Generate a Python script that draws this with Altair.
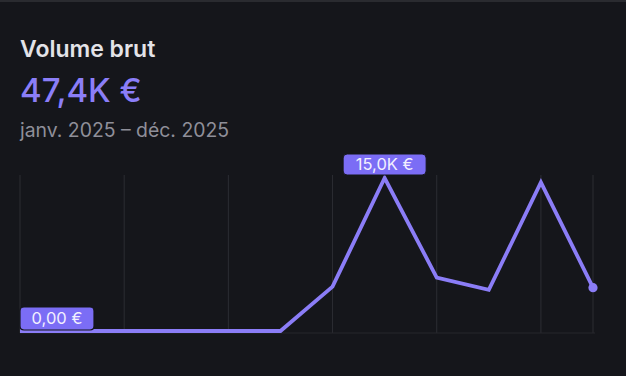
import altair as alt
import pandas as pd

# ---- data ----
months = ["janv.", "févr.", "mars", "avr.", "mai", "juin",
          "juil.", "août", "sept.", "oct.", "nov.", "déc."]
month_idx = list(range(1, 13))
values = [0, 0, 0, 0, 0, 0, 4350, 15000, 5240, 4030, 14570, 4250]
grid_months = [1, 3, 5, 7, 9, 11, 12]

title_text = "Volume brut"
total_text = "47,4K €"
period_text = "janv. 2025 – déc. 2025"

def fmt_eur(v):
    if v == 0:
        return "0,00 €"
    return f"{v/1000:.1f}K €".replace(".", ",")

df = pd.DataFrame({"m": month_idx, "mois": months, "v": values})
imax = values.index(max(values))
imin = values.index(min(values))
max_df = pd.DataFrame({"m": [month_idx[imax]], "v": [values[imax]], "t": [fmt_eur(values[imax])]})
min_df = pd.DataFrame({"m": [month_idx[imin]], "v": [values[imin]], "t": [fmt_eur(values[imin])]})
last_df = df.tail(1)
grid_df = pd.DataFrame({"m": grid_months})

# ---- style ----
BG = "#15161b"
GRID = "#2c2d33"
LINE = "#8b7df7"
BOX = "#7b6df5"
FONT = "Inter"
W, H = 573, 153

xs = alt.Scale(domain=[1, 12])
ys = alt.Scale(domain=[0, 15000])

def rrect(x0, y0, x1, y1, r):
    return (f"M{x0+r},{y0} L{x1-r},{y0} Q{x1},{y0} {x1},{y0+r} "
            f"L{x1},{y1-r} Q{x1},{y1} {x1-r},{y1} L{x0+r},{y1} "
            f"Q{x0},{y1} {x0},{y1-r} L{x0},{y0+r} Q{x0},{y0} {x0+r},{y0} Z")

grid = alt.Chart(grid_df).mark_rule(color=GRID, strokeWidth=1).encode(
    x=alt.X("m:Q", scale=xs, axis=None),
    y=alt.value(-3), y2=alt.value(H + 2))

base_rule = alt.Chart(grid_df.head(1)).mark_rule(color="#26272c", strokeWidth=1).encode(
    x=alt.value(0), x2=alt.value(W + 2), y=alt.value(H + 2))

top_strip = alt.Chart(grid_df.head(1)).mark_rule(color="#2a2b30", strokeWidth=2).encode(
    x=alt.value(-20), x2=alt.value(W + 33), y=alt.value(-177))

line = alt.Chart(df).mark_line(color=LINE, strokeWidth=3.8, strokeJoin="miter", strokeCap="butt").encode(
    x=alt.X("m:Q", scale=xs, axis=None),
    y=alt.Y("v:Q", scale=ys, axis=None))

dot = alt.Chart(last_df).mark_point(filled=True, color=LINE, size=85, opacity=1).encode(
    x=alt.X("m:Q", scale=xs, axis=None),
    y=alt.Y("v:Q", scale=ys, axis=None))

max_box = alt.Chart(max_df).mark_point(
    shape=rrect(-41.5, -24, 41.5, -3, 4), size=4, fill=BOX, stroke=BG, strokeWidth=1,
    opacity=1, fillOpacity=1).encode(
    x=alt.X("m:Q", scale=xs, axis=None),
    y=alt.Y("v:Q", scale=ys, axis=None))
max_txt = alt.Chart(max_df).mark_text(
    font=FONT, fontSize=16.5, color="#f2f0ff", baseline="middle", align="center", dy=-13).encode(
    x=alt.X("m:Q", scale=xs, axis=None),
    y=alt.Y("v:Q", scale=ys, axis=None), text="t:N")

min_box = alt.Chart(min_df).mark_point(
    shape=rrect(0, -24, 74, -1, 4), size=4, fill=BOX, stroke=BG, strokeWidth=1.2,
    opacity=1, fillOpacity=1).encode(
    x=alt.X("m:Q", scale=xs, axis=None),
    y=alt.Y("v:Q", scale=ys, axis=None))
min_txt = alt.Chart(min_df).mark_text(
    font=FONT, fontSize=16.5, color="#f2f0ff", baseline="middle", align="center", dx=37, dy=-12).encode(
    x=alt.X("m:Q", scale=xs, axis=None),
    y=alt.Y("v:Q", scale=ys, axis=None), text="t:N")

def label(text, y, size, color, weight):
    return alt.Chart(pd.DataFrame({"t": [text]})).mark_text(
        font=FONT, fontSize=size, color=color, fontWeight=weight,
        align="left", baseline="alphabetic").encode(
        x=alt.value(0), y=alt.value(y), text="t:N")

t1 = label(title_text, -121, 23, "#e3e3e8", 600)
t2 = label(total_text, -76, 33, "#8b7ef8", 500)
t3 = label(period_text, -41, 19.4, "#8f8f99", 400)

chart = alt.layer(top_strip, grid, base_rule, line, min_box, min_txt, max_box, max_txt, dot, t1, t2, t3).properties(
    width=W, height=H,
    autosize=alt.AutoSizeParams(type="none"),
    padding={"left": 20, "top": 178, "right": 33, "bottom": 45},
    background=BG,
).configure_view(stroke=None)

chart.save("out.html", embed_options={"renderer": "svg", "actions": False})
